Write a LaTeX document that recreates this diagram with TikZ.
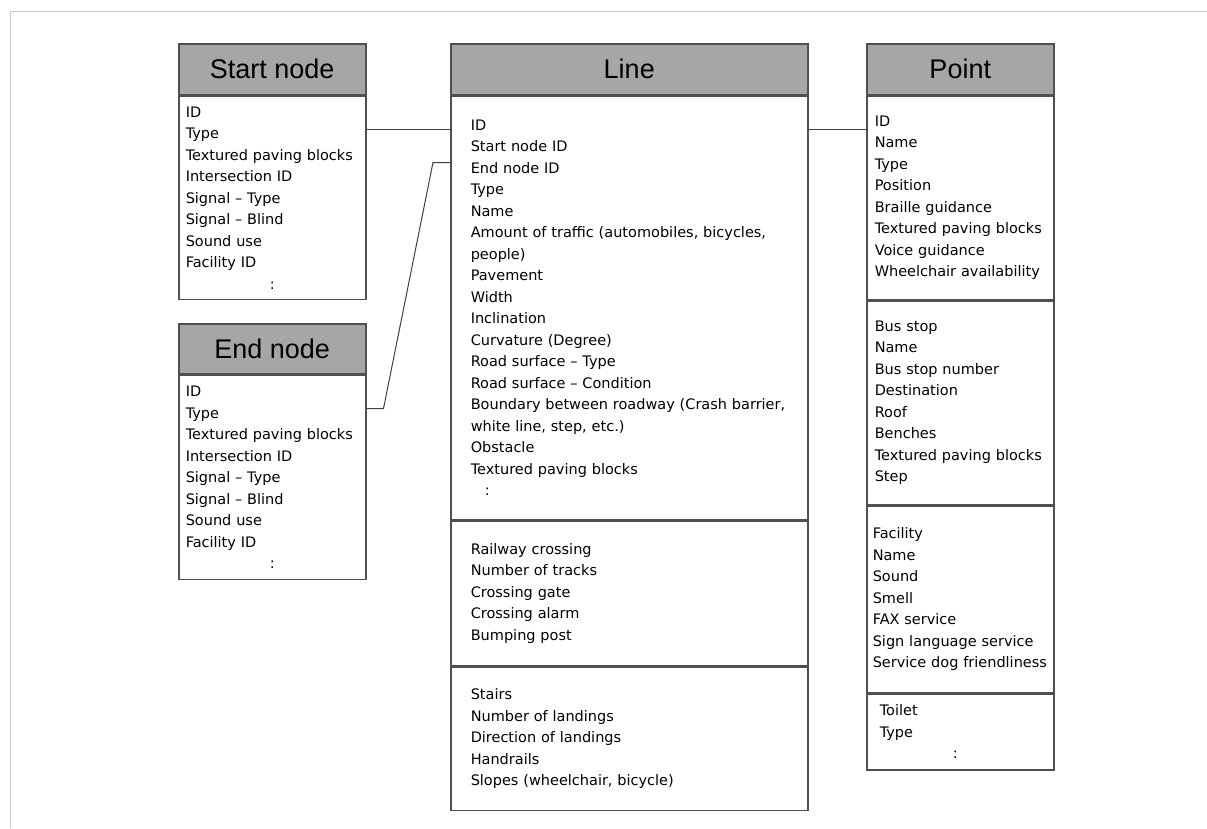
\documentclass[tikz,border=0pt]{standalone}
\usepackage{fontspec}
\setmainfont{DejaVu Sans}
\newfontfamily\headfont{Liberation Sans}
\usetikzlibrary{positioning}
\definecolor{headgray}{RGB}{166,166,166}
\definecolor{boxline}{RGB}{80,80,80}
\definecolor{framegray}{RGB}{200,200,200}

\begin{document}
\begin{tikzpicture}[x=1pt, y=-1pt, node distance=0pt,
    header/.style={rectangle, draw=boxline, line width=1.5pt, fill=headgray,
      minimum height=51, inner sep=0, font=\headfont\fontsize{27}{30}\selectfont},
    field/.style={rectangle, draw=boxline, line width=1.5pt, align=left,
      inner ysep=0, font=\fontsize{14.5}{21.5}\selectfont},
    link/.style={draw=black!75, line width=1pt}]

    \useasboundingbox (0,0) rectangle (1207,828);
    \draw[framegray, line width=1pt] (10,828) -- (10,11) -- (1207,11);

    % Start node
    \node[header, minimum width=187, anchor=north west] (starthead) at (178,43) {Start node};
    \node[field, minimum height=203, text width=173, inner xsep=7,
      below=0pt of starthead.south west, anchor=north west] (startbody)
    {ID\\Type\\Textured paving blocks\\Intersection ID\\Signal -- Type\\
      Signal -- Blind\\Sound use\\Facility ID\\\hspace*{84pt}:};

    % End node
    \node[header, minimum width=187, minimum height=50, anchor=north west] (endhead) at (178,323) {End node};
    \node[field, minimum height=204, text width=173, inner xsep=7,
      below=0pt of endhead.south west, anchor=north west] (endbody)
    {ID\\Type\\Textured paving blocks\\Intersection ID\\Signal -- Type\\
      Signal -- Blind\\Sound use\\Facility ID\\\hspace*{84pt}:};

    % Line
    \node[header, minimum width=357, anchor=north west] (linehead) at (450,43) {Line};
    \node[field, minimum height=423, text width=317, inner xsep=20,
      below=0pt of linehead.south west, anchor=north west] (linemain)
    {ID\\Start node ID\\End node ID\\Type\\Name\\
      Amount of traffic (automobiles, bicycles,\\people)\\Pavement\\Width\\
      Inclination\\Curvature (Degree)\\Road surface -- Type\\
      Road surface -- Condition\\Boundary between roadway (Crash barrier,\\
      white line, step, etc.)\\Obstacle\\Textured paving blocks\\\hspace*{14pt}:};
    \node[field, minimum height=145, text width=317, inner xsep=20,
      below=0pt of linemain.south west, anchor=north west] (linerail)
    {Railway crossing\\Number of tracks\\Crossing gate\\Crossing alarm\\Bumping post};
    \node[field, minimum height=143, text width=317, inner xsep=20,
      below=0pt of linerail.south west, anchor=north west] (linestairs)
    {Stairs\\Number of landings\\Direction of landings\\Handrails\\
      Slopes (wheelchair, bicycle)};

    % Point
    \node[header, minimum width=187, anchor=north west] (pointhead) at (866,43) {Point};
    \node[field, minimum height=203, text width=171, inner xsep=8,
      below=0pt of pointhead.south west, anchor=north west] (pointmain)
    {ID\\Name\\Type\\Position\\Braille guidance\\Textured paving blocks\\
      Voice guidance\\Wheelchair availability};
    \node[field, minimum height=204, text width=171, inner xsep=8,
      below=0pt of pointmain.south west, anchor=north west] (pointbus)
    {Bus stop\\Name\\Bus stop number\\Destination\\Roof\\Benches\\
      Textured paving blocks\\Step};
    \node[field, minimum height=186, text width=175, inner xsep=6,
      below=0pt of pointbus.south west, anchor=north west] (pointfacility)
    {Facility\\Name\\Sound\\Smell\\FAX service\\Sign language service\\
      Service dog friendliness};
    \node[field, minimum height=76, text width=161, inner xsep=13,
      below=0pt of pointfacility.south west, anchor=north west] (pointtoilet)
    {Toilet\\Type\\\hspace*{73pt}:};

    % links
    \coordinate (startlink) at ([yshift=-33.5pt]startbody.north east);
    \draw[link] (startlink) -- (startlink -| linemain.west);
    \coordinate (pointlink) at ([yshift=-34pt]linemain.north east);
    \draw[link] (pointlink) -- (pointlink -| pointmain.west);
    \coordinate (endlink) at ([yshift=-34pt]endbody.north east);
    \coordinate (lineendlink) at ([yshift=-67pt]linemain.north west);
    \draw[link] (endlink) -- ++(17,0) -- ([xshift=-17pt]lineendlink) -- (lineendlink);

\end{tikzpicture}
\end{document}
